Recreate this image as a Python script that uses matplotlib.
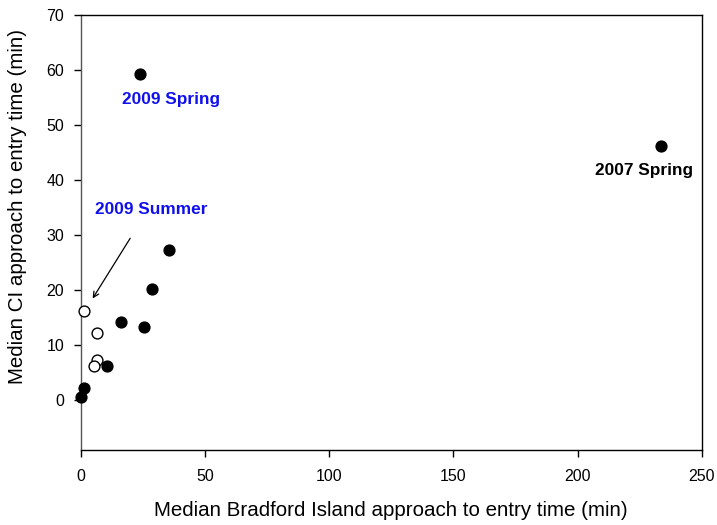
import matplotlib
matplotlib.use("Agg")
import matplotlib.pyplot as plt

plt.rcParams['font.family'] = ['Liberation Sans', 'DejaVu Sans']

# Median approach-to-entry times (min): Bradford Island (x) vs CI (y)
filled_x = [23.9, 233.6, 28.6, 16.3, 25.6, 10.6, 1.3, 0.25, 35.4]
filled_y = [59.2, 46.1, 20.2, 14.2, 13.2, 6.2, 2.2, 0.6, 27.2]

open_x = [1.3, 6.4, 6.7, 5.2]
open_y = [16.2, 12.2, 7.3, 6.2]

x_ticks = [0, 50, 100, 150, 200, 250]
y_ticks = [0, 10, 20, 30, 40, 50, 60, 70]

fig = plt.figure(figsize=(7.17, 5.25), dpi=100)
ax = fig.add_axes([0.1126, 0.1429, 0.8661, 0.8291])

ax.plot(filled_x, filled_y, 'o', ms=7.8, mfc='black', mec='black', zorder=3, clip_on=False)
ax.plot(open_x, open_y, 'o', ms=7.8, mfc='white', mec='black', mew=1.0, zorder=3, clip_on=False)

ax.set_xlim(0, 250)
ax.set_ylim(-9.1, 70)
ax.set_xticks(x_ticks)
ax.set_yticks(y_ticks)
ax.tick_params(direction='out', length=5, width=1, labelsize=11.5)
ax.tick_params(axis='x', pad=9)
ax.tick_params(axis='y', pad=7)

for s in ax.spines.values():
    s.set_linewidth(1.0)
ax.spines['left'].set_color('#555555')

ax.set_xlabel('Median Bradford Island approach to entry time (min)', fontsize=14.8, labelpad=12)
ax.set_ylabel('Median CI approach to entry time (min)', fontsize=14.8)
ax.yaxis.set_label_coords(-0.087, 0.559)

ax.text(36.5, 54.5, '2009 Spring', color='#1010ee', fontsize=12.4, fontweight='bold',
        ha='center', va='center')
ax.text(28.3, 34.6, '2009 Summer', color='#1010ee', fontsize=12.4, fontweight='bold',
        ha='center', va='center')
ax.text(226.6, 41.6, '2007 Spring', color='black', fontsize=12.4, fontweight='bold',
        ha='center', va='center')

ax.annotate('', xy=(4.2, 18.0), xytext=(20.5, 29.8),
            arrowprops=dict(arrowstyle='->', color='black', lw=0.9))

fig.savefig('out.png', dpi=100)
